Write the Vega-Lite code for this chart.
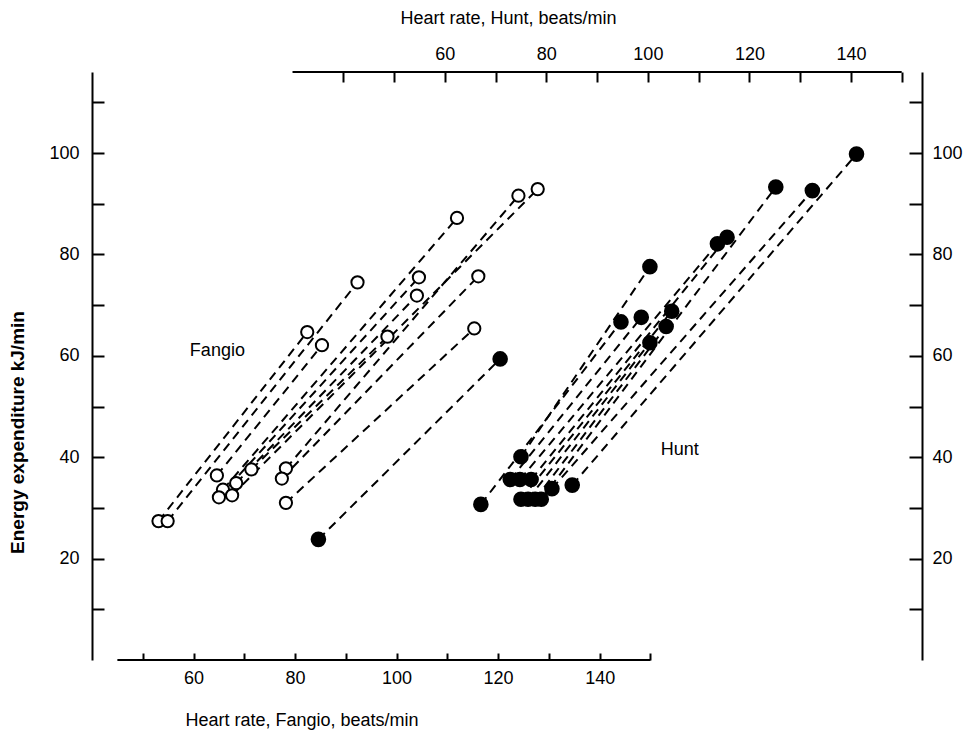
{
  "$schema": "https://vega.github.io/schema/vega-lite/v6.json",
  "width": 830,
  "height": 588,
  "autosize": {"type": "none"},
  "padding": {"left": 92, "top": 72, "right": 53, "bottom": 71},
  "background": "white",
  "config": {
    "view": {"stroke": null},
    "font": "Liberation Sans",
    "axis": {
      "grid": false,
      "domainColor": "black",
      "domainWidth": 2,
      "tickColor": "black",
      "tickWidth": 2,
      "labelColor": "black",
      "labelFont": "Liberation Sans",
      "labelFontSize": 18,
      "titleColor": "black",
      "titleFont": "Liberation Sans",
      "titleFontSize": 18,
      "titleFontWeight": "normal",
      "labelFlush": false,
      "labelOverlap": false
    }
  },
  "datasets": {
    "fangio": [
      {"pair": "f1", "hr": 53.1, "energy": 27.4, "kind": "open"},
      {"pair": "f1", "hr": 82.4, "energy": 64.7, "kind": "open"},
      {"pair": "f2", "hr": 54.9, "energy": 27.4, "kind": "open"},
      {"pair": "f2", "hr": 92.3, "energy": 74.5, "kind": "open"},
      {"pair": "f3", "hr": 64.6, "energy": 36.4, "kind": "open"},
      {"pair": "f3", "hr": 85.3, "energy": 62.1, "kind": "open"},
      {"pair": "f4", "hr": 65.8, "energy": 33.6, "kind": "open"},
      {"pair": "f4", "hr": 111.9, "energy": 87.2, "kind": "open"},
      {"pair": "f5", "hr": 65.0, "energy": 32.1, "kind": "open"},
      {"pair": "f5", "hr": 104.4, "energy": 75.5, "kind": "open"},
      {"pair": "f6", "hr": 68.4, "energy": 34.9, "kind": "open"},
      {"pair": "f6", "hr": 104.0, "energy": 71.9, "kind": "open"},
      {"pair": "f7", "hr": 71.4, "energy": 37.6, "kind": "open"},
      {"pair": "f7", "hr": 98.2, "energy": 63.8, "kind": "open"},
      {"pair": "f8", "hr": 67.6, "energy": 32.5, "kind": "open"},
      {"pair": "f8", "hr": 127.8, "energy": 92.9, "kind": "open"},
      {"pair": "f9", "hr": 78.2, "energy": 37.8, "kind": "open"},
      {"pair": "f9", "hr": 124.0, "energy": 91.6, "kind": "open"},
      {"pair": "f10", "hr": 77.4, "energy": 35.8, "kind": "open"},
      {"pair": "f10", "hr": 116.1, "energy": 75.7, "kind": "open"},
      {"pair": "f11", "hr": 78.2, "energy": 31.0, "kind": "open"},
      {"pair": "f11", "hr": 115.3, "energy": 65.4, "kind": "open"},
      {"pair": "f12", "hr": 84.6, "energy": 23.8, "kind": "filled"},
      {"pair": "f12", "hr": 120.4, "energy": 59.4, "kind": "filled"}
    ],
    "hunt": [
      {"pair": "h1", "hr": 75.0, "energy": 40.1},
      {"pair": "h1", "hr": 100.4, "energy": 77.6},
      {"pair": "h2", "hr": 67.1, "energy": 30.7},
      {"pair": "h2", "hr": 94.7, "energy": 66.7},
      {"pair": "h3", "hr": 72.9, "energy": 35.6},
      {"pair": "h3", "hr": 98.7, "energy": 67.6},
      {"pair": "h4", "hr": 74.8, "energy": 35.6},
      {"pair": "h4", "hr": 113.7, "energy": 82.1},
      {"pair": "h5", "hr": 77.0, "energy": 35.6},
      {"pair": "h5", "hr": 115.6, "energy": 83.4},
      {"pair": "h6", "hr": 75.0, "energy": 31.7},
      {"pair": "h6", "hr": 104.7, "energy": 68.8},
      {"pair": "h7", "hr": 76.4, "energy": 31.7},
      {"pair": "h7", "hr": 100.4, "energy": 62.6},
      {"pair": "h8", "hr": 77.8, "energy": 31.7},
      {"pair": "h8", "hr": 103.6, "energy": 65.8},
      {"pair": "h9", "hr": 79.0, "energy": 31.7},
      {"pair": "h9", "hr": 125.2, "energy": 93.3},
      {"pair": "h10", "hr": 81.1, "energy": 33.8},
      {"pair": "h10", "hr": 132.4, "energy": 92.6},
      {"pair": "h11", "hr": 85.1, "energy": 34.5},
      {"pair": "h11", "hr": 141.1, "energy": 99.8}
    ]
  },
  "layer": [
    {
      "layer": [
        {
          "data": {"values": [{}]},
          "mark": {"type": "rule", "color": "black", "strokeWidth": 2},
          "encoding": {
            "x": {"datum": 45, "type": "quantitative", "scale": {"domain": [40, 203.5], "nice": false, "zero": false}},
            "x2": {"datum": 150},
            "y": {"datum": 0, "type": "quantitative", "scale": {"domain": [0, 116], "nice": false, "zero": false}}
          }
        },
        {
          "data": {"name": "fangio"},
          "mark": {"type": "line", "color": "black", "strokeWidth": 2, "strokeDash": [9, 6]},
          "encoding": {
            "x": {"field": "hr", "type": "quantitative", "scale": {"domain": [40, 203.5], "nice": false, "zero": false}},
            "y": {"field": "energy", "type": "quantitative", "scale": {"domain": [0, 116], "nice": false, "zero": false}},
            "detail": {"field": "pair"}
          }
        },
        {
          "data": {"name": "fangio"},
          "mark": {"type": "circle", "stroke": "black", "strokeWidth": 2, "opacity": 1},
          "encoding": {
            "x": {
              "field": "hr", "type": "quantitative",
              "scale": {"domain": [40, 203.5], "nice": false, "zero": false},
              "axis": {
                "orient": "bottom",
                "domain": false,
                "values": [50, 60, 70, 80, 90, 100, 110, 120, 130, 140, 150],
                "labelExpr": "datum.value % 20 == 0 ? datum.label : ''",
                "tickSize": -7,
                "labelPadding": 16,
                "title": "Heart rate, Fangio, beats/min",
                "titleX": 93,
                "titleY": 60,
                "titleAlign": "left",
                "titleBaseline": "middle"
              }
            },
            "y": {
              "field": "energy", "type": "quantitative",
              "scale": {"domain": [0, 116], "nice": false, "zero": false},
              "axis": {
                "orient": "left",
                "values": [10, 20, 30, 40, 50, 60, 70, 80, 90, 100, 110],
                "labelExpr": "datum.value % 20 == 0 ? datum.label : ''",
                "tickSize": -12,
                "labelPadding": 25,
                "title": "Energy expenditure kJ/min",
                "titleFontWeight": "bold",
                "titleFontSize": 19,
                "titleX": -75,
                "titleY": 360,
                "titleAlign": "center",
                "titleBaseline": "middle"
              }
            },
            "fill": {"field": "kind", "type": "nominal", "scale": {"domain": ["open", "filled"], "range": ["white", "black"]}, "legend": null},
            "size": {"field": "kind", "type": "nominal", "scale": {"domain": ["open", "filled"], "range": [150, 185]}, "legend": null}
          }
        },
        {
          "data": {"values": [{"label": "Fangio", "hr": 64.7, "energy": 60.9}]},
          "mark": {"type": "text", "fontSize": 18, "font": "Liberation Sans", "color": "black", "align": "center", "baseline": "middle"},
          "encoding": {
            "x": {"field": "hr", "type": "quantitative", "scale": {"domain": [40, 203.5], "nice": false, "zero": false}},
            "y": {"field": "energy", "type": "quantitative", "scale": {"domain": [0, 116], "nice": false, "zero": false}},
            "text": {"field": "label"}
          }
        }
      ]
    },
    {
      "layer": [
        {
          "data": {"values": [{}]},
          "mark": {"type": "rule", "color": "black", "strokeWidth": 2},
          "encoding": {
            "x": {"datum": 30, "type": "quantitative", "scale": {"domain": [-9.5, 154], "nice": false, "zero": false}},
            "x2": {"datum": 150},
            "y": {"datum": 116, "type": "quantitative", "scale": {"domain": [0, 116], "nice": false, "zero": false}}
          }
        },
        {
          "data": {"name": "hunt"},
          "mark": {"type": "line", "color": "black", "strokeWidth": 2, "strokeDash": [9, 6]},
          "encoding": {
            "x": {"field": "hr", "type": "quantitative", "scale": {"domain": [-9.5, 154], "nice": false, "zero": false}},
            "y": {"field": "energy", "type": "quantitative", "scale": {"domain": [0, 116], "nice": false, "zero": false}},
            "detail": {"field": "pair"}
          }
        },
        {
          "data": {"name": "hunt"},
          "mark": {"type": "circle", "stroke": "black", "strokeWidth": 2, "fill": "black", "opacity": 1, "size": 185},
          "encoding": {
            "x": {
              "field": "hr", "type": "quantitative",
              "scale": {"domain": [-9.5, 154], "nice": false, "zero": false},
              "axis": {
                "orient": "top",
                "domain": false,
                "values": [40, 50, 60, 70, 80, 90, 100, 110, 120, 130, 140, 150],
                "labelExpr": "datum.value % 20 == 0 && datum.value >= 60 ? datum.label : ''",
                "tickSize": -10,
                "labelPadding": 19,
                "title": "Heart rate, Hunt, beats/min",
                "titleX": 308,
                "titleY": -54,
                "titleAlign": "left",
                "titleBaseline": "middle"
              }
            },
            "y": {
              "field": "energy", "type": "quantitative",
              "scale": {"domain": [0, 116], "nice": false, "zero": false},
              "axis": {
                "orient": "right",
                "values": [10, 20, 30, 40, 50, 60, 70, 80, 90, 100, 110],
                "labelExpr": "datum.value % 20 == 0 ? datum.label : ''",
                "tickSize": -13,
                "labelPadding": 23,
                "title": null
              }
            }
          }
        },
        {
          "data": {"values": [{"label": "Hunt", "hr": 106.3, "energy": 41.4}]},
          "mark": {"type": "text", "fontSize": 18, "font": "Liberation Sans", "color": "black", "align": "center", "baseline": "middle"},
          "encoding": {
            "x": {"field": "hr", "type": "quantitative", "scale": {"domain": [-9.5, 154], "nice": false, "zero": false}},
            "y": {"field": "energy", "type": "quantitative", "scale": {"domain": [0, 116], "nice": false, "zero": false}},
            "text": {"field": "label"}
          }
        }
      ]
    }
  ],
  "resolve": {"scale": {"x": "independent", "y": "independent"}}
}
